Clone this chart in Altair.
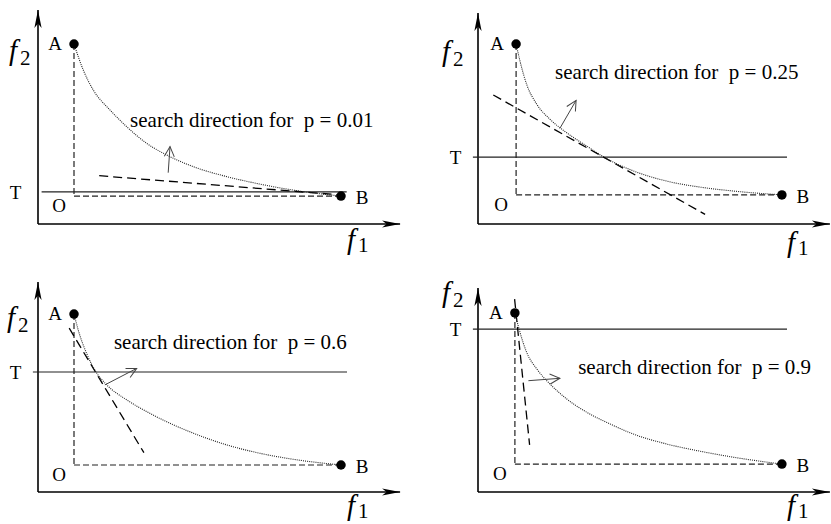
import altair as alt
import pandas as pd

# ---------------------------------------------------------------------------
# Four sketches of the same bi-objective Pareto front A-B, each with the
# threshold T, the tangent (dashed) and the search direction for a weight p.
# All coordinates are in (f1, f2) units; the f1 / f2 axes cross at (0, 0).
# ---------------------------------------------------------------------------

P_TEXT = ["p = 0.01", "p = 0.25", "p = 0.6", "p = 0.9"]

# Pareto front traced in each panel
FRONT_F1 = [
    [1.20, 1.51, 1.84, 2.40, 2.96, 3.62, 4.29, 5.18, 6.29, 7.40, 8.50, 10.10],
    [1.27, 1.40, 1.62, 1.96, 2.40, 2.96, 3.62, 4.23, 5.18, 6.29, 7.40, 8.50, 10.13],
    [1.20, 1.34, 1.62, 1.96, 2.29, 2.96, 3.62, 4.40, 5.18, 6.29, 7.40, 8.51, 10.10],
    [1.23, 1.40, 1.62, 1.96, 2.40, 2.96, 3.62, 4.40, 5.18, 6.29, 7.40, 8.51, 10.13],
]
FRONT_F2 = [
    [6.00, 5.13, 4.47, 3.80, 3.24, 2.69, 2.30, 1.91, 1.58, 1.33, 1.13, 0.93],
    [6.00, 5.43, 4.66, 3.99, 3.49, 3.04, 2.60, 2.21, 1.77, 1.43, 1.23, 1.10, 0.97],
    [5.93, 5.40, 4.62, 3.96, 3.57, 3.07, 2.68, 2.29, 1.96, 1.57, 1.29, 1.09, 0.90],
    [5.97, 5.32, 4.66, 4.10, 3.60, 3.10, 2.66, 2.27, 1.93, 1.60, 1.36, 1.16, 0.93],
]

# extreme points A (best f1) and B (best f2); O is the ideal corner
A_F1 = [1.20, 1.27, 1.20, 1.23]
A_F2 = [6.00, 6.00, 5.93, 5.97]
B_F1 = [10.10, 10.13, 10.10, 10.13]
B_F2 = [0.93, 0.97, 0.90, 0.93]

# threshold level T and the extent of its line
T_LEVEL = [1.07, 2.23, 4.00, 5.43]
T_FROM = [0.12, -0.17, -0.17, -0.17]
T_TO = [10.29, 10.30, 10.30, 10.30]

# dashed tangent to the front
TAN_START_F1 = [2.04, 0.51, 1.04, 1.22]
TAN_START_F2 = [1.61, 4.30, 5.46, 6.43]
TAN_END_F1 = [10.20, 7.57, 3.53, 1.72]
TAN_END_F2 = [0.96, 0.32, 1.31, 1.57]

# search-direction arrow (base on the front, tip outward)
DIR_BASE_F1 = [4.34, 2.73, 2.23, 1.68]
DIR_BASE_F2 = [1.71, 3.19, 3.57, 3.71]
DIR_TIP_F1 = [4.40, 3.27, 3.29, 2.73]
DIR_TIP_F2 = [2.58, 4.12, 4.12, 3.79]

# length of the f1 and f2 axes
F1_AXIS_END = [12.07, 11.73, 12.07, 11.73]
F2_AXIS_END = [7.13, 7.03, 7.00, 6.80]

# anchors of the annotations (left end / baseline)
NOTE_F1 = [3.07, 2.57, 2.53, 3.34]
NOTE_F2 = [3.22, 4.82, 4.76, 3.94]
F2_NAME_AT = [(-0.97, 5.47), (-1.20, 5.43), (-1.03, 5.50), (-1.20, 6.33)]
F1_NAME_AT = [(10.30, -0.83), (10.30, -0.93), (10.30, -0.78), (10.30, -0.76)]

# ---------------------------------------------------------------------------
UNIT = 30.0            # pixels per unit on both axes
INSET_X = 38           # f2 axis distance from the panel's left edge
INSET_Y = 224          # f1 axis distance from the panel's top edge
LEFT_W, RIGHT_W = 410, 391
TOP_H, BOTTOM_H = 258, 256

SERIF = "Liberation Serif"
AXIS_HEAD = "M0,0 L0.4,2 L0,1.5 L-0.4,2 Z"
OPEN_HEAD = "M-0.5,1 L0,0 L0.5,1"


def panel(i, width, height):
    xdom = [-INSET_X / UNIT, (width - INSET_X) / UNIT]
    ydom = [-(height - INSET_Y) / UNIT, INSET_Y / UNIT]

    def X(field):
        return alt.X(field, type="quantitative",
                     scale=alt.Scale(domain=xdom, nice=False, zero=False), axis=None)

    def Y(field):
        return alt.Y(field, type="quantitative",
                     scale=alt.Scale(domain=ydom, nice=False, zero=False), axis=None)

    def segments(rows, **mark):
        df = pd.DataFrame(rows, columns=["x", "y", "x2", "y2"])
        return alt.Chart(df).mark_rule(**mark).encode(
            x=X("x"), y=Y("y"), x2="x2", y2="y2")

    def label(x, y, text, **mark):
        df = pd.DataFrame({"x": [x], "y": [y]})
        return alt.Chart(df).mark_text(text=text, font=SERIF, color="black", **mark).encode(
            x=X("x"), y=Y("y"))

    ax, ay, bx, by = A_F1[i], A_F2[i], B_F1[i], B_F2[i]

    axes = segments([[0, 0, 0, F2_AXIS_END[i]], [0, 0, F1_AXIS_END[i], 0]],
                    color="black", strokeWidth=1.6)
    heads = alt.Chart(pd.DataFrame({
        "x": [0, F1_AXIS_END[i]], "y": [F2_AXIS_END[i], 0], "ang": [0, 90]})
    ).mark_point(shape=AXIS_HEAD, filled=True, size=324, color="black",
                 opacity=1, strokeWidth=0).encode(
        x=X("x"), y=Y("y"), angle=alt.Angle("ang:Q", scale=None))

    t_line = segments([[T_FROM[i], T_LEVEL[i], T_TO[i], T_LEVEL[i]]],
                      color="#222", strokeWidth=1.1)
    box = segments([[ax, ay, ax, by], [ax, by, bx, by]],
                   color="#222", strokeWidth=1.2, strokeDash=[6, 3])
    tangent = segments([[TAN_START_F1[i], TAN_START_F2[i], TAN_END_F1[i], TAN_END_F2[i]]],
                       color="black", strokeWidth=1.3, strokeDash=[9, 5])

    front_df = pd.DataFrame({"f1": FRONT_F1[i], "f2": FRONT_F2[i],
                             "k": range(len(FRONT_F1[i]))})
    front = alt.Chart(front_df).mark_line(
        interpolate="monotone", color="#222", strokeWidth=1.1, strokeDash=[1, 1.1]
    ).encode(x=X("f1"), y=Y("f2"), order=alt.Order("k:Q"))

    dir_df = pd.DataFrame({"x": [DIR_BASE_F1[i]], "y": [DIR_BASE_F2[i]],
                           "x2": [DIR_TIP_F1[i]], "y2": [DIR_TIP_F2[i]]})
    shaft = alt.Chart(dir_df).mark_rule(color="#444", strokeWidth=1).encode(
        x=X("x"), y=Y("y"), x2="x2", y2="y2")
    tip = alt.Chart(dir_df).transform_calculate(
        ang="(atan2(datum.x2 - datum.x, datum.y2 - datum.y) * 180 / PI + 360) % 360"
    ).mark_point(shape=OPEN_HEAD, filled=False, size=400, color="#444",
                 strokeWidth=1, opacity=1).encode(
        x=X("x2"), y=Y("y2"), angle=alt.Angle("ang:Q", scale=None))

    dots = alt.Chart(pd.DataFrame({"x": [ax, bx], "y": [ay, by]})).mark_circle(
        size=90, color="black", opacity=1).encode(x=X("x"), y=Y("y"))

    names = [
        label(ax, ay, "A", fontSize=19, dx=-19, align="center", baseline="middle"),
        label(bx, by, "B", fontSize=19, dx=21, dy=2, align="center", baseline="middle"),
        label(ax, by, "O", fontSize=19, dx=-15, dy=10, align="center", baseline="middle"),
        label(0, T_LEVEL[i], "T", fontSize=19, dx=-22.5, dy=1, align="center",
              baseline="middle"),
    ]

    fx2, fy2 = F2_NAME_AT[i]
    fx1, fy1 = F1_NAME_AT[i]
    axis_names = [
        label(fx2, fy2, "f", fontSize=29, fontStyle="italic", align="left",
              baseline="alphabetic"),
        label(fx2, fy2, "2", fontSize=21, dx=11, dy=5, align="left",
              baseline="alphabetic"),
        label(fx1, fy1, "f", fontSize=29, fontStyle="italic", align="left",
              baseline="alphabetic"),
        label(fx1, fy1, "1", fontSize=21, dx=11, dy=3, align="left",
              baseline="alphabetic"),
    ]

    note = label(NOTE_F1[i], NOTE_F2[i],
                 "search direction for\u00a0\u00a0" + P_TEXT[i],
                 fontSize=21, align="left", baseline="alphabetic")

    return alt.layer(axes, heads, t_line, box, tangent, front, shaft, tip, dots,
                     *names, *axis_names, note).properties(width=width, height=height)


chart = alt.concat(
    panel(0, LEFT_W, TOP_H), panel(1, RIGHT_W, TOP_H),
    panel(2, LEFT_W, BOTTOM_H), panel(3, RIGHT_W, BOTTOM_H),
    columns=2, spacing={"row": 10, "column": 30}, bounds="flush",
).properties(padding=0, background="white").configure_view(stroke=None)

chart.save("out.html", embed_options={"renderer": "svg", "actions": False})
